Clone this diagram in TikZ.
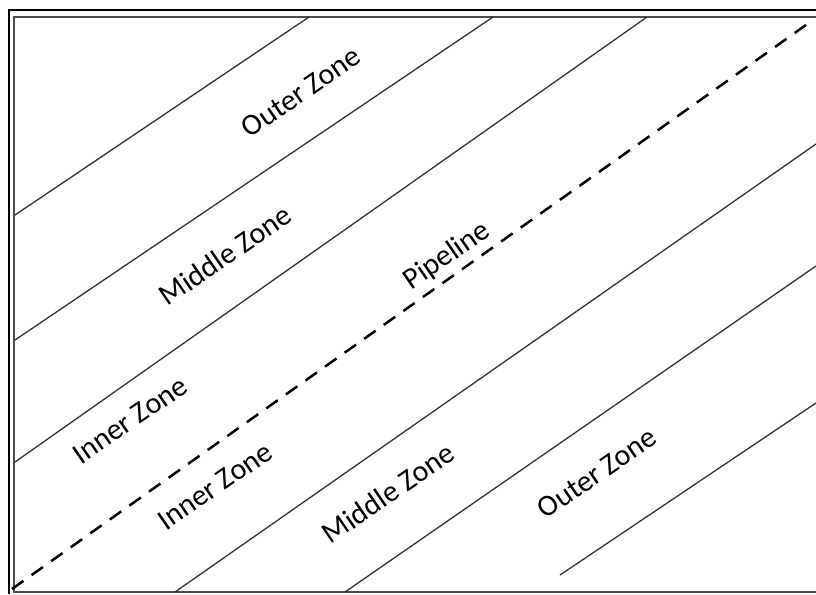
\documentclass[tikz,border=0pt]{standalone}
\usepackage{fontspec}
\setmainfont{Carlito}
\begin{document}
\begin{tikzpicture}[x=1pt,y=-1pt,
  zone/.style={draw=black!80,line width=1.3pt},
  pipe/.style={draw=black,line width=2.5pt,dash pattern=on 14pt off 10pt},
  lbl/.style={font=\fontsize{30}{34}\selectfont,rotate=34.5,inner sep=0pt}]
\useasboundingbox (0,0) rectangle (816,594);
% frame
\draw[line width=2pt,black] (9,594) -- (9,10) -- (816,10);
\draw[line width=1.6pt,black!70] (816,17) -- (14,17) -- (14,592) -- (816,592);
% zone lines
\coordinate (a1) at (15,215); \coordinate (a2) at (309,17);
\coordinate (b1) at (15,340); \coordinate (b2) at (493,17);
\coordinate (c1) at (15,462); \coordinate (c2) at (647,17);
\coordinate (d1) at (12,589); \coordinate (d2) at (813,20);
\coordinate (e1) at (175,592); \coordinate (e2) at (816,144);
\coordinate (f1) at (345,592); \coordinate (f2) at (816,266);
\coordinate (g1) at (560,575); \coordinate (g2) at (816,403);
\draw[zone] (a1) -- (a2);
\draw[zone] (b1) -- (b2);
\draw[zone] (c1) -- (c2);
\draw[pipe] (d1) -- (d2);
\draw[zone] (e1) -- (e2);
\draw[zone] (f1) -- (f2);
\draw[zone] (g1) -- (g2);
% labels
\node[lbl] (t1) at (301,92) {Outer Zone};
\node[lbl] (t2) at (225,255) {Middle Zone};
\node[lbl] (t3) at (447,256) {Pipeline};
\node[lbl] (t4) at (130,420) {Inner Zone};
\node[lbl] (t5) at (215,486) {Inner Zone};
\node[lbl] (t6) at (388,493) {Middle Zone};
\node[lbl] (t7) at (597,473) {Outer Zone};
\end{tikzpicture}
\end{document}
